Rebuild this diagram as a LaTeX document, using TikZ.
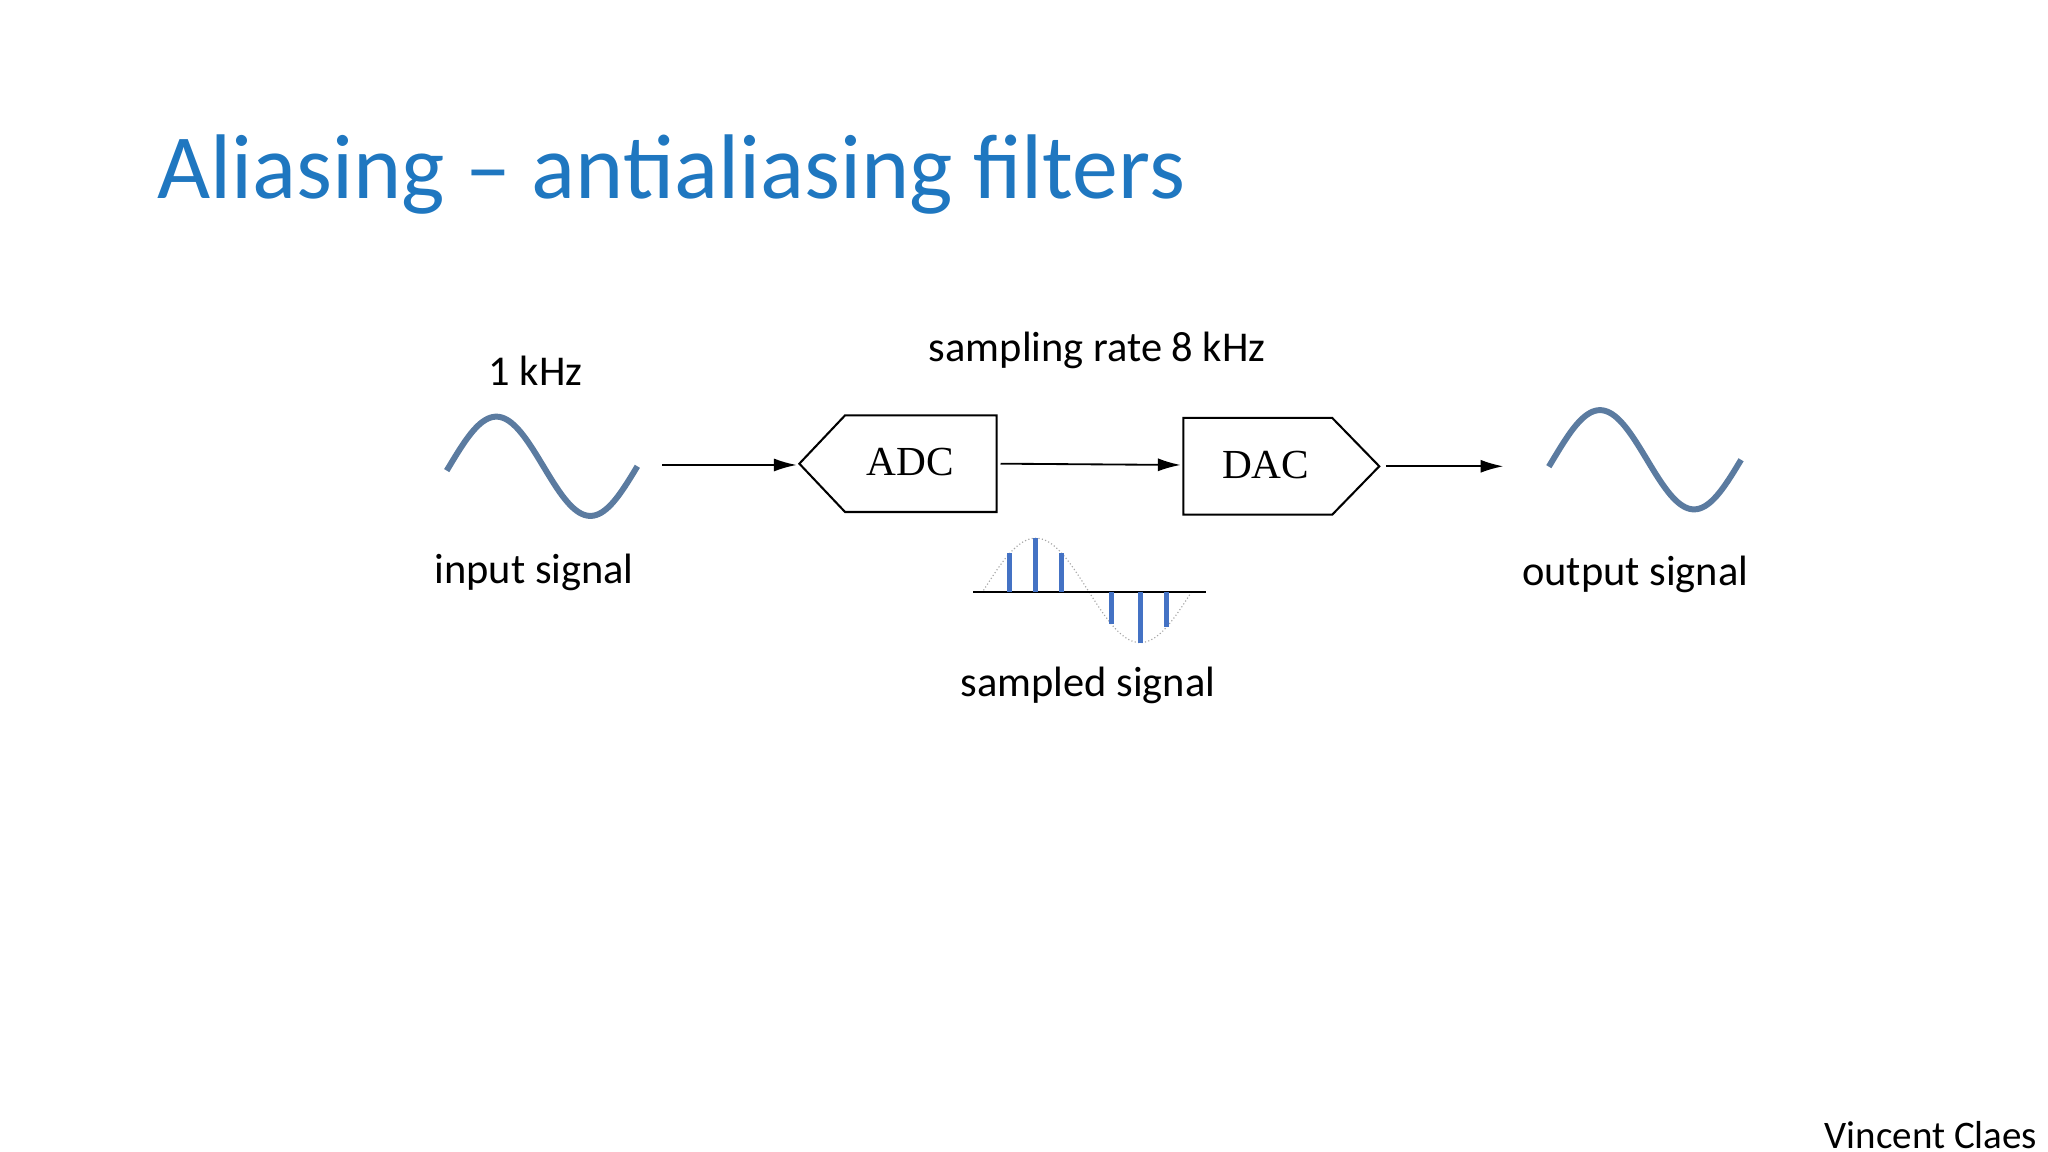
\documentclass[tikz,border=0pt]{standalone}
\usepackage{fontspec}
\setmainfont{Carlito}
\newfontfamily\tms{Liberation Serif}
\usetikzlibrary{arrows.meta}
\definecolor{ttl}{HTML}{1F77C0}
\definecolor{sw}{HTML}{5B7BA0}
\definecolor{sb}{HTML}{4472C4}
\begin{document}
\begin{tikzpicture}[x=0.02cm,y=-0.02cm,
  lbl/.style={font=\fontsize{18.5}{22}\selectfont},
  blk/.style={draw,line width=0.9pt},
  arr/.style={-{Latex[length=3.5mm,width=2mm]},line width=0.8pt},
  wave/.style={sw,line width=2.6pt},
  stick/.style={sb,line width=2.2pt}]
\useasboundingbox (0,0) rectangle (1568,882);
\node[anchor=base west,text=ttl,font=\fontsize{40}{46}\selectfont,inner sep=0] (title) at (120,152) {Aliasing – antialiasing filters};
% shapes
\draw[blk] (612,355) -- (647,318) -- (763,318) -- (763,392) -- (647,392) -- cycle;
\node[font=\tms\fontsize{18}{20}\selectfont] (adc) at (697,354) {ADC};
\draw[blk] (906,320) -- (1020,320) -- (1056,357) -- (1020,394) -- (906,394) -- cycle;
\node[font=\tms\fontsize{18}{20}\selectfont] (dac) at (969,356) {DAC};
\coordinate (a1) at (507,356); \coordinate (a2) at (610,356);
\coordinate (b1) at (766,355); \coordinate (b2) at (904,356);
\coordinate (c1) at (1061,357); \coordinate (c2) at (1151,357);
\draw[arr] (a1) -- (a2);
\draw[arr] (b1) -- (b2);
\draw[arr] (c1) -- (c2);
% waves
\draw[wave,domain=-5:360,samples=80] plot ({344+\x*0.4},{357-38*sin(\x)});
\draw[wave,domain=-8:360,samples=80] plot ({1189+\x*0.4},{352-38*sin(\x)});
% sampled signal
\draw[gray!70,densely dotted,line width=0.5pt,domain=0:360,samples=80] plot ({753+\x*0.4444},{452-40*sin(\x)});
\draw[line width=0.9pt] (745,453) -- (923,453);
\foreach \t in {45,90,135,220,270,315}
  \draw[stick] ({753+\t*0.4444},453) -- ({753+\t*0.4444},{452-40*sin(\t)});
% labels
\node[lbl] (f) at (410,284) {1 kHz};
\node[lbl] (sr) at (840,268) {sampling rate 8 kHz};
\node[lbl] (in) at (409,438) {input signal};
\node[lbl] (out) at (1252,440) {output signal};
\node[lbl] (ss) at (833,525) {sampled signal};
\node[lbl,anchor=east,font=\fontsize{17}{20}\selectfont] (vc) at (1566,869) {Vincent Claes};
\end{tikzpicture}
\end{document}
